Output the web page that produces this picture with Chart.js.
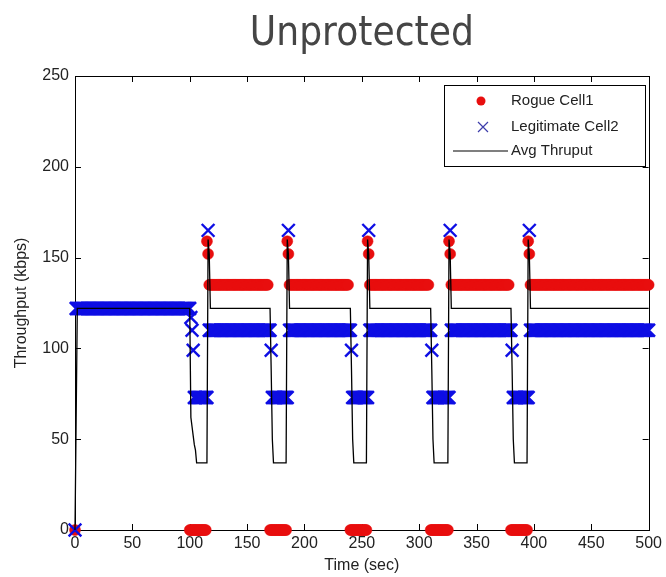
<!DOCTYPE html>
<html><head><meta charset="utf-8">
<script src="https://cdn.jsdelivr.net/npm/chart.js@4.4.1/dist/chart.umd.min.js"></script>
<style>html,body{margin:0;padding:0;background:#fff;overflow:hidden}#wrap{width:666px;height:577px}</style>
</head><body><div id="wrap"><canvas id="c" width="666" height="577"></canvas></div>
<script>
const chartTitle = 'Unprotected';
const xLabel = 'Time (sec)';
const yLabel = 'Throughput (kbps)';
const seriesNames = ['Rogue Cell1', 'Legitimate Cell2', 'Avg Thruput'];
const xTicks = [0, 50, 100, 150, 200, 250, 300, 350, 400, 450, 500];
const yTicks = [0, 50, 100, 150, 200, 250];

// runs of one sample per second: [fromSec, toSec, kbps]
const rogueRuns = [
  [0, 0, 0],
  [100, 114, 0], [115, 115, 159], [116, 116, 152], [117, 168, 135],
  [170, 184, 0], [185, 185, 159], [186, 186, 152], [187, 238, 135],
  [240, 254, 0], [255, 255, 159], [256, 256, 152], [257, 308, 135],
  [310, 325, 0], [326, 326, 159], [327, 327, 152], [328, 378, 135],
  [380, 394, 0], [395, 395, 159], [396, 396, 152], [397, 500, 135]
];
const legitRuns = [
  [0, 0, 0], [1, 100, 122], [101, 101, 117], [102, 102, 110], [103, 103, 99],
  [104, 115, 73], [116, 116, 165], [117, 170, 110],
  [171, 171, 99], [172, 185, 73], [186, 186, 165], [187, 240, 110],
  [241, 241, 99], [242, 255, 73], [256, 256, 165], [257, 310, 110],
  [311, 311, 99], [312, 326, 73], [327, 327, 165], [328, 380, 110],
  [381, 381, 99], [382, 395, 73], [396, 396, 165], [397, 500, 110]
];
// average throughput line vertices
const avgTime  = [0, 1, 2, 100, 101, 102, 103, 104, 105, 106, 115, 116, 117, 118,
  170, 171, 172, 173, 184, 185, 186, 187,
  240, 241, 242, 243, 254, 255, 256, 257,
  310, 311, 312, 313, 325, 326, 327, 328,
  380, 381, 382, 383, 394, 395, 396, 397, 500];
const avgValue = [0, 61, 122, 122, 62, 57, 52, 47, 44, 37, 37, 160, 152, 122,
  122, 88, 50, 37, 37, 160, 152, 122,
  122, 88, 50, 37, 37, 160, 152, 122,
  122, 88, 50, 37, 37, 160, 152, 122,
  122, 88, 50, 37, 37, 160, 152, 122, 122];

function expandRuns(runs) {
  const pts = [];
  runs.forEach(([a, b, v]) => { for (let t = a; t <= b; t++) pts.push({x: t, y: v}); });
  return pts;
}

const RED = 'rgb(232,14,14)';
const BLUE = 'rgb(14,14,228)';
const TXT = '#222';
Chart.defaults.font.family = "'Liberation Sans', Arial, sans-serif";

const framePlugin = {
  id: 'frame',
  beforeDatasetsDraw(chart) {
    const {ctx, chartArea: a, scales} = chart;
    ctx.save();
    ctx.strokeStyle = '#000';
    ctx.lineWidth = 1;
    ctx.strokeRect(Math.round(a.left) + 0.5, Math.round(a.top) + 0.5,
      Math.round(a.right - a.left), Math.round(a.bottom - a.top));
    ctx.beginPath();
    const tl = 6;
    xTicks.forEach(v => {
      const p = Math.round(scales.x.getPixelForValue(v)) + 0.5;
      ctx.moveTo(p, a.bottom); ctx.lineTo(p, a.bottom - tl);
      ctx.moveTo(p, a.top); ctx.lineTo(p, a.top + tl);
    });
    yTicks.forEach(v => {
      const p = Math.round(scales.y.getPixelForValue(v)) + 0.5;
      ctx.moveTo(a.left, p); ctx.lineTo(a.left + tl, p);
      ctx.moveTo(a.right, p); ctx.lineTo(a.right - tl, p);
    });
    ctx.stroke();
    ctx.restore();
  },
  afterDraw(chart) {
    const {ctx, chartArea: a} = chart;
    ctx.save();
    // title
    ctx.fillStyle = '#454545';
    ctx.font = "41px 'DejaVu Sans'";
    ctx.textAlign = 'center';
    ctx.textBaseline = 'alphabetic';
    ctx.fillText(chartTitle, (a.left + a.right) / 2, 45, 224);
    // legend
    const lx = 444, ly = 85, lw = 201, lh = 81;
    ctx.fillStyle = '#fff';
    ctx.fillRect(lx, ly, lw, lh);
    ctx.strokeStyle = '#000';
    ctx.lineWidth = 1;
    ctx.strokeRect(lx + 0.5, ly + 0.5, lw, lh);
    const rows = [101, 127, 151];
    ctx.fillStyle = RED;
    ctx.beginPath(); ctx.arc(481, rows[0], 4.5, 0, Math.PI * 2); ctx.fill();
    ctx.strokeStyle = 'rgb(60,60,170)';
    ctx.lineWidth = 1.2;
    ctx.beginPath();
    ctx.moveTo(478, rows[1] - 5); ctx.lineTo(488, rows[1] + 5);
    ctx.moveTo(488, rows[1] - 5); ctx.lineTo(478, rows[1] + 5);
    ctx.stroke();
    ctx.strokeStyle = '#000';
    ctx.lineWidth = 1.2;
    ctx.beginPath(); ctx.moveTo(453, rows[2]); ctx.lineTo(508, rows[2]); ctx.stroke();
    ctx.fillStyle = TXT;
    ctx.font = "15px 'Liberation Sans'";
    ctx.textAlign = 'left';
    ctx.textBaseline = 'middle';
    seriesNames.forEach((n, i) => ctx.fillText(n, 511, rows[i]));
    ctx.restore();
  }
};

new Chart(document.getElementById('c'), {
  type: 'scatter',
  data: {
    datasets: [
      {
        label: seriesNames[0], data: expandRuns(rogueRuns), showLine: false,
        pointStyle: 'circle', pointRadius: 5.5, pointBackgroundColor: RED,
        pointBorderColor: RED, pointBorderWidth: 0.5, order: 2, clip: false
      },
      {
        label: seriesNames[1], data: expandRuns(legitRuns), showLine: false,
        pointStyle: 'crossRot', pointRadius: 9, pointBorderColor: BLUE,
        pointBackgroundColor: BLUE, pointBorderWidth: 2.4, order: 1, clip: false
      },
      {
        label: seriesNames[2], data: avgTime.map((t, i) => ({x: t, y: avgValue[i]})),
        showLine: true, pointRadius: 0, borderColor: '#000', borderWidth: 1.3,
        fill: false, order: 0, clip: false
      }
    ]
  },
  options: {
    responsive: false, animation: false, devicePixelRatio: 1, events: [],
    layout: {padding: {top: 76, right: 14, left: 0, bottom: 0}},
    plugins: {legend: {display: false}, tooltip: {enabled: false}, title: {display: false}},
    scales: {
      x: {
        type: 'linear', min: 0, max: 500,
        afterBuildTicks: s => { s.ticks = xTicks.map(v => ({value: v})); },
        afterFit: s => { s.height = 47; },
        grid: {display: false, drawTicks: false},
        border: {display: false},
        ticks: {padding: 4, color: TXT, font: {size: 16}, maxRotation: 0, autoSkip: false},
        title: {display: true, text: xLabel, color: TXT, font: {size: 16}, padding: {top: 0, bottom: 2}}
      },
      y: {
        type: 'linear', min: 0, max: 250,
        afterBuildTicks: s => { s.ticks = yTicks.map(v => ({value: v})); },
        afterFit: s => { s.width = 75; },
        grid: {display: false, drawTicks: false},
        border: {display: false},
        ticks: {padding: 6, color: TXT, font: {size: 16}, autoSkip: false},
        title: {display: true, text: yLabel, color: TXT, font: {size: 16}, padding: {top: 12, bottom: 0}}
      }
    }
  },
  plugins: [framePlugin]
});
</script></body></html>
